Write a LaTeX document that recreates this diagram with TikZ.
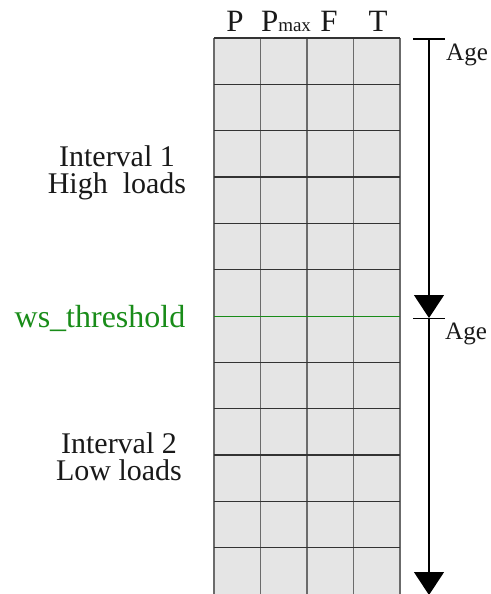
\documentclass[tikz,border=0pt]{standalone}
\usepackage{fontspec}
\setmainfont{Liberation Serif}
\newfontfamily\labelfont{Liberation Serif}
\usetikzlibrary{arrows.meta}
\definecolor{cellfill}{gray}{0.9}
\definecolor{gridv}{gray}{0.42}
\definecolor{gridh}{gray}{0.2}
\definecolor{thresh}{RGB}{25,140,25}
\begin{document}
\begin{tikzpicture}[x=1pt,y=-1pt,
  headtext/.style={inner sep=0pt,anchor=base,font=\labelfont\fontsize{31}{31}\selectfont,text=black!90},
  bigtext/.style={inner sep=0pt,anchor=base,align=center,font=\labelfont\fontsize{30}{27}\selectfont,text=black!90},
  agetext/.style={inner sep=0pt,anchor=base west,font=\labelfont\fontsize{25}{25}\selectfont,text=black!90},
  vline/.style={gridv,line width=1.6pt},
  hline/.style={gridh,line width=1.4pt},
  agearrow/.style={line width=1.2pt,{Bar[width=32pt,line width=1.2pt]}-{Triangle[width=30pt,length=23pt]}}]
\useasboundingbox (0,0) rectangle (490,594);

% table body
\fill[cellfill] (214,38) rectangle (400,594);
\foreach \x in {214,260.5,307,353.5,400}
  \draw[vline] (\x,38) -- (\x,594);
\foreach \i in {0,...,5,7,8,9,10,11}
  \draw[hline] (214,{38+46.33*\i}) -- (400,{38+46.33*\i});
\draw[thresh,line width=1.6pt] (214,316.5) -- (400,316.5);

% column headers
\node[headtext] (hP) at (235,32) {P};
\node[headtext] (hPmax) at (286,32) {P{\fontsize{19}{19}\selectfont max}};
\node[headtext] (hF) at (329,32) {F};
\node[headtext] (hT) at (378,32) {T};

% interval labels (anchored at the baseline of the last line)
\node[bigtext] (int1) at (117,193) {Interval 1\\High\ \ loads};
\node[headtext,font=\labelfont\fontsize{32}{32}\selectfont,text=thresh] (thr) at (100,327) {ws\_threshold};
\node[bigtext] (int2) at (119,480) {Interval 2\\Low loads};

% age axis
\coordinate (a0) at (429,38.5);
\coordinate (a1) at (429,318);
\coordinate (a2) at (429,595);
\draw[agearrow] (a0) -- (a1);
\draw[agearrow] (a1) -- (a2);
\node[agetext] (age1) at (446,61) {Age};
\node[agetext] (age2) at (445,339) {Age};
\end{tikzpicture}
\end{document}
